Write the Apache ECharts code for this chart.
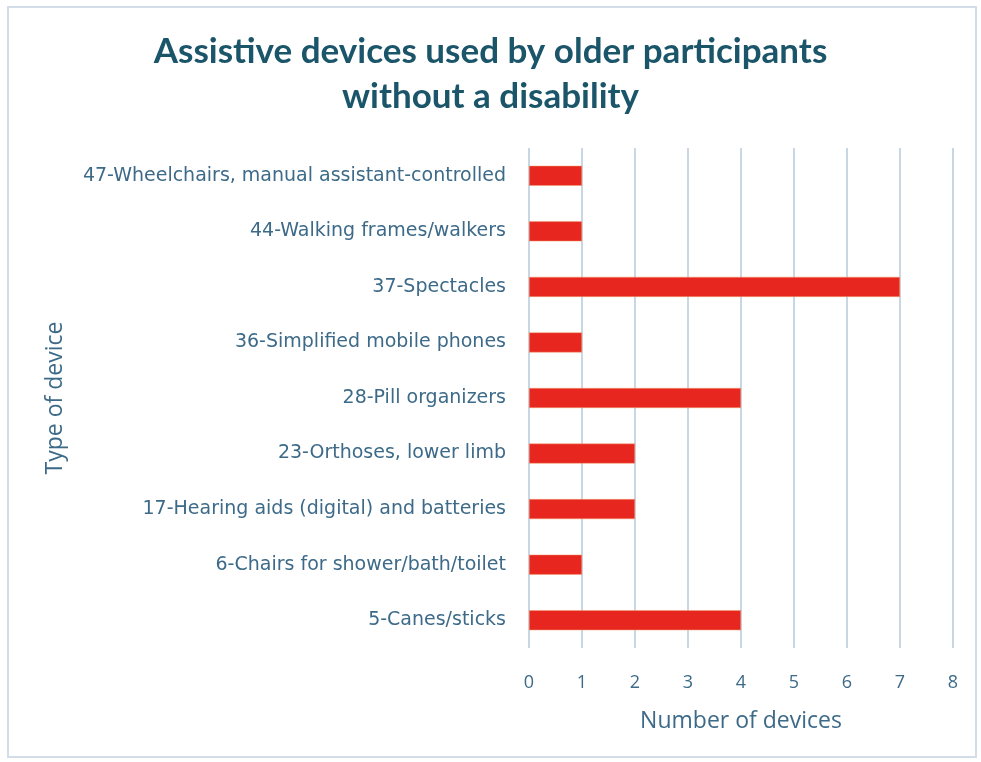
<!DOCTYPE html>
<html>
<head>
<meta charset="utf-8">
<script src="https://cdn.jsdelivr.net/npm/echarts@6/dist/echarts.min.js"></script>
<style>
  html, body { margin: 0; padding: 0; background: #ffffff; }
  #chart { width: 981px; height: 762px; }
</style>
</head>
<body>
<div id="chart"></div>
<script>
// Device categories, listed bottom to top as the category axis draws them
const devices = [
  '5-Canes/sticks',
  '6-Chairs for shower/bath/toilet',
  '17-Hearing aids (digital) and batteries',
  '23-Orthoses, lower limb',
  '28-Pill organizers',
  '36-Simplified mobile phones',
  '37-Spectacles',
  '44-Walking frames/walkers',
  '47-Wheelchairs, manual assistant-controlled'
];
// Number of devices used for each category
const counts = [4, 1, 2, 2, 4, 1, 7, 1, 1];
// Value axis tick labels
const xTicks = [0, 1, 2, 3, 4, 5, 6, 7, 8];

const titleColor = '#1b5569';
const labelColor = '#3c6a88';
const gridColor = '#c9d6e3';

const chart = echarts.init(document.getElementById('chart'), null, { renderer: 'canvas' });
chart.setOption({
  backgroundColor: '#ffffff',
  animation: false,
  graphic: [{
    type: 'rect',
    shape: { x: 8, y: 7, width: 968, height: 750 },
    style: { fill: 'none', stroke: '#d3dde8', lineWidth: 2 },
    silent: true
  }],
  title: {
    text: 'Assistive devices used by older participants\nwithout a disability',
    left: 'center',
    top: 24,
    textStyle: {
      fontFamily: 'Lato',
      fontWeight: 'bold',
      fontSize: 35,
      lineHeight: 45,
      color: titleColor
    }
  },
  grid: { left: 529, right: 28, top: 148, bottom: 114, containLabel: false },
  xAxis: {
    type: 'value',
    min: xTicks[0],
    max: xTicks[xTicks.length - 1],
    interval: 1,
    name: 'Number of devices',
    nameLocation: 'middle',
    nameGap: 62,
    nameTextStyle: { fontFamily: 'Open Sans', fontSize: 23, color: labelColor },
    axisLine: { show: false },
    axisTick: { show: false },
    axisLabel: {
      fontFamily: 'Open Sans',
      fontSize: 18,
      color: labelColor,
      margin: 26,
      formatter: v => String(v)
    },
    splitLine: { show: true, lineStyle: { color: gridColor, width: 2 } }
  },
  yAxis: {
    type: 'category',
    data: devices,
    name: 'Type of device',
    nameLocation: 'middle',
    nameGap: 462,
    nameRotate: 90,
    nameTextStyle: { fontFamily: 'Open Sans', fontSize: 23, color: labelColor },
    axisLine: { show: false },
    axisTick: { show: false },
    axisLabel: {
      fontFamily: 'DejaVu Sans',
      fontSize: 19,
      color: labelColor,
      margin: 23
    },
    splitLine: { show: false }
  },
  series: [{
    type: 'bar',
    data: counts,
    barWidth: 20,
    itemStyle: { color: '#e82620', borderColor: '#f0a070', borderWidth: 0.5 }
  }]
});
</script>
</body>
</html>
